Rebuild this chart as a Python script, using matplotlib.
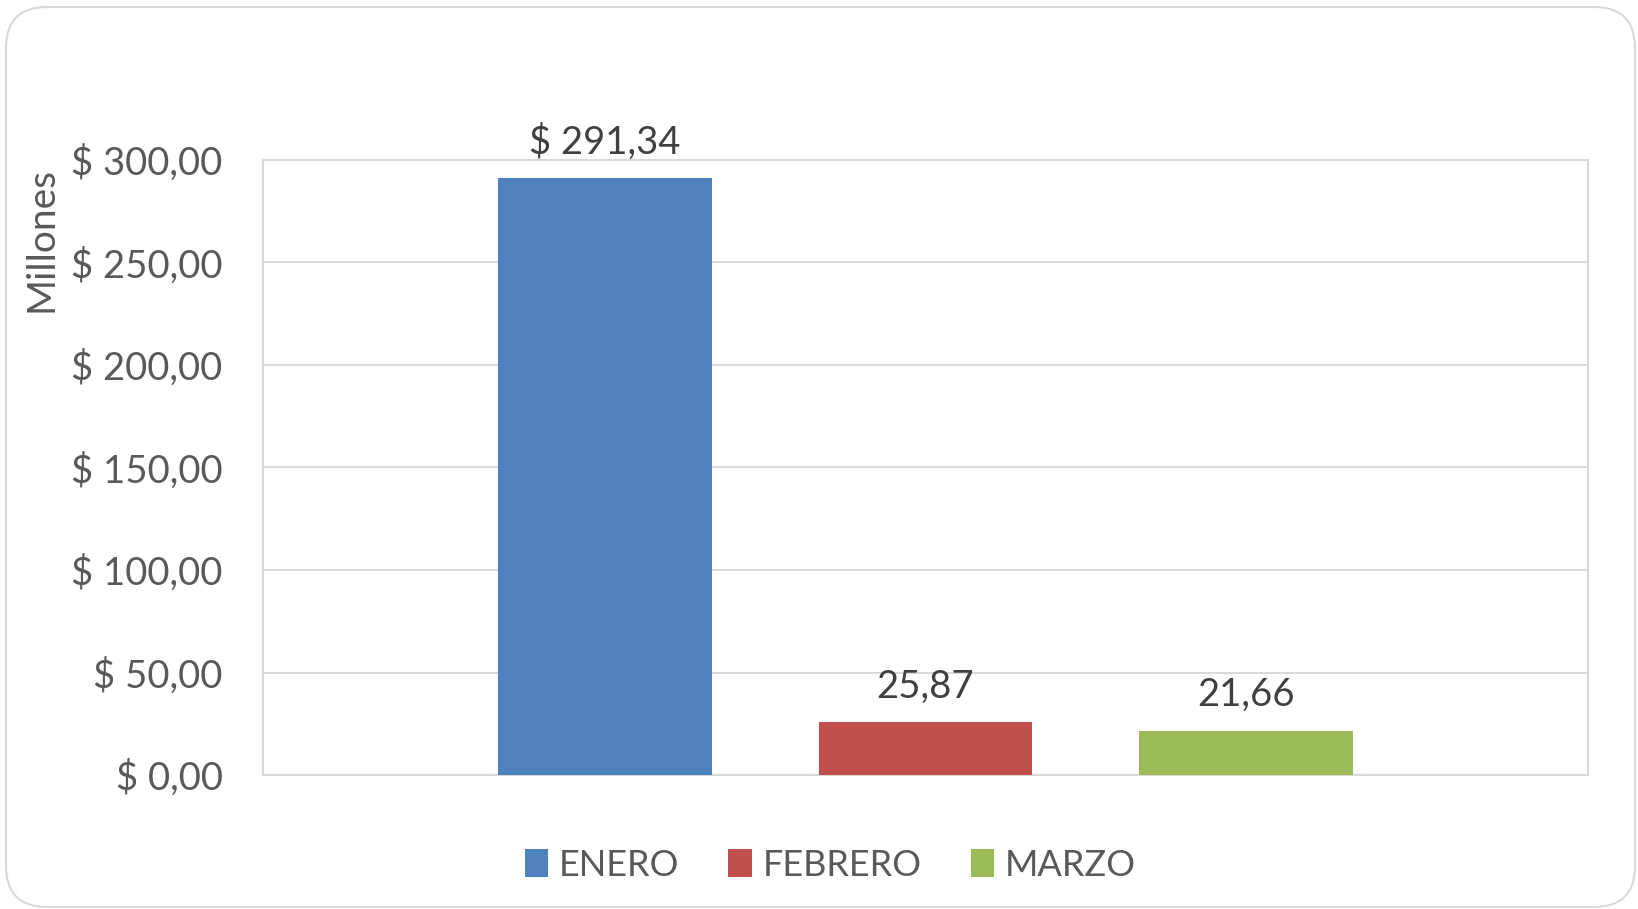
import matplotlib.pyplot as plt
from matplotlib.patches import FancyBboxPatch

meses = ["ENERO", "FEBRERO", "MARZO"]
valores = [291.34, 25.87, 21.66]
etiquetas = ["$ 291,34", "25,87", "21,66"]
colores = ["#4F81BD", "#C0504D", "#9BBB59"]
yticks = [0, 50, 100, 150, 200, 250, 300]

plt.rcParams['font.family'] = ['Lato', 'DejaVu Sans']
texto = '#595959'

fig = plt.figure(figsize=(16.38, 9.09), dpi=100)
# rounded chart border
borde = FancyBboxPatch((6 / 1638, 2 / 909), 1629 / 1638, 900 / 909, transform=fig.transFigure,
                       boxstyle="round,pad=0,rounding_size=0.025",
                       facecolor='white', edgecolor='#D9D9D9', linewidth=1.5,
                       mutation_aspect=1638 / 909, zorder=-10)
fig.patches.append(borde)

ax = fig.add_axes([263 / 1638, 1 - 775 / 909, (1588 - 263) / 1638, (775 - 160) / 909])
ax.set_facecolor('none')

for i, (m, v, c) in enumerate(zip(meses, valores, colores)):
    ax.bar(i, v, width=0.667, color=c, label=m, zorder=3)
    ax.text(i, v + 8.5, etiquetas[i], ha='center', va='bottom', fontsize=27.5, color='#404040')

ax.set_xlim(-1.065, 3.065)
ax.set_ylim(0, 300)
ax.set_yticks(yticks)
ax.set_yticklabels(["$ %d,00" % t for t in yticks], fontsize=27.5, color=texto)
ax.set_xticks([])
ax.tick_params(axis='y', length=0, pad=29)
ax.grid(axis='y', color='#D9D9D9', linewidth=1.5, zorder=0)
for s in ax.spines.values():
    s.set_color('#D9D9D9')
    s.set_linewidth(1.5)

fig.text(42 / 1638, 1 - 240 / 909, "Millones", rotation=90, ha='center', va='center',
         fontsize=28, color=texto)

leg = fig.legend(loc='center', bbox_to_anchor=(0.507, 1 - 865 / 909), ncol=3, frameon=False,
                 fontsize=26, handlelength=0.65, handleheight=0.78, handletextpad=0.3,
                 columnspacing=1.35, labelcolor=texto)

fig.savefig('out.png', dpi=100)
